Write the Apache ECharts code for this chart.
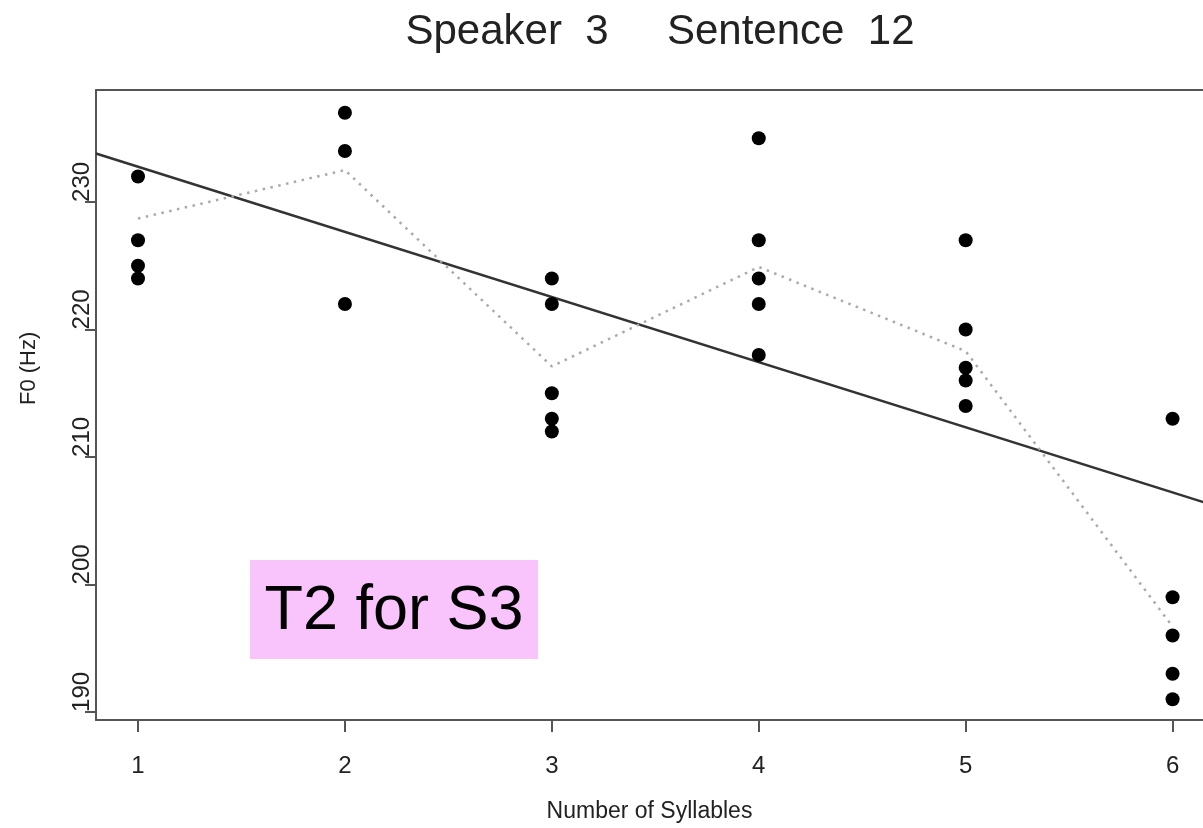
<!DOCTYPE html>
<html>
<head>
<meta charset="utf-8">
<script src="https://cdn.jsdelivr.net/npm/echarts@6/dist/echarts.min.js"></script>
<style>
  html, body { margin: 0; padding: 0; background: #fff; }
  #chart { width: 1203px; height: 828px; }
</style>
</head>
<body>
<div id="chart"></div>
<script>
// ---- data ----
const titleText = 'Speaker  3     Sentence  12';
const xName = 'Number of Syllables';
const yName = 'F0 (Hz)';
const annotationText = 'T2 for S3';

const xTicks = [1, 2, 3, 4, 5, 6];
const yTicks = [190, 200, 210, 220, 230];

// F0 values per number of syllables
const f0Syl1 = [232, 227, 225, 224];
const f0Syl2 = [237, 234, 222];
const f0Syl3 = [224, 222, 215, 213, 212];
const f0Syl4 = [235, 227, 224, 222, 218];
const f0Syl5 = [227, 220, 217, 216, 214];
const f0Syl6 = [213, 199, 196, 193, 191];

// dotted line (per-syllable mean)
const meanF0 = [228.7, 232.5, 217.1, 224.9, 218.3, 196.7];

// regression line end points
const fitX = [0.797, 6.2];
const fitF0 = [233.8, 206.2];

// visible axis ranges (the plot box is cut off at the right edge of the picture)
const xRange = [0.797, 6.147];
const yRange = [189.37, 238.78];

// ---- build series ----
const groups = [f0Syl1, f0Syl2, f0Syl3, f0Syl4, f0Syl5, f0Syl6];
const scatterData = [];
groups.forEach((g, i) => g.forEach(v => scatterData.push([xTicks[i], v])));
const meanData = xTicks.map((x, i) => [x, meanF0[i]]);
const fitData = fitX.map((x, i) => [x, fitF0[i]]);

const FONT = '"Liberation Sans", Arial, Helvetica, sans-serif';
const FRAME = { color: '#555', width: 2 };

const chart = echarts.init(document.getElementById('chart'), null, { renderer: 'canvas' });
chart.setOption({
  animation: false,
  backgroundColor: '#ffffff',
  title: {
    text: titleText,
    left: 655,
    textAlign: 'center',
    top: 6,
    textStyle: { fontFamily: FONT, fontSize: 42, fontWeight: 'normal', color: '#222' }
  },
  grid: {
    left: 96, top: 90, right: 0, bottom: 108,
    show: false
  },
  xAxis: [
    {
      type: 'value',
      position: 'bottom',
      min: xRange[0], max: xRange[1],
      name: xName,
      nameLocation: 'middle',
      nameGap: 80,
      nameTextStyle: { fontFamily: FONT, fontSize: 23, color: '#222', padding: [0, 0, 0, 0] },
      axisLine: { show: true, onZero: false, lineStyle: FRAME },
      splitLine: { show: false },
      axisTick: { show: true, customValues: xTicks, length: 12, inside: false, lineStyle: FRAME },
      axisLabel: { customValues: xTicks, margin: 34, fontFamily: FONT, fontSize: 24, color: '#222',
        formatter: v => String(v) }
    },
    {
      type: 'value',
      position: 'top',
      min: xRange[0], max: xRange[1],
      axisLine: { show: true, onZero: false, lineStyle: FRAME },
      splitLine: { show: false },
      axisTick: { show: false },
      axisLabel: { show: false }
    }
  ],
  yAxis: {
    type: 'value',
    min: yRange[0], max: yRange[1],
    name: yName,
    nameLocation: 'middle',
    nameRotate: 90,
    nameGap: 56,
    nameTextStyle: { fontFamily: FONT, fontSize: 22, color: '#222', align: 'left', verticalAlign: 'bottom' },
    axisLine: { show: true, onZero: false, lineStyle: FRAME },
    splitLine: { show: false },
    axisTick: { show: true, customValues: yTicks, length: 11, inside: false, lineStyle: FRAME },
    axisLabel: { customValues: yTicks, rotate: 90, align: 'left', verticalAlign: 'bottom',
      margin: 2, fontFamily: FONT, fontSize: 24, color: '#222', formatter: v => String(v) }
  },
  series: [
    {
      type: 'line',
      data: fitData,
      showSymbol: false,
      symbol: 'none',
      clip: true,
      lineStyle: { color: '#333', width: 2.5 },
      z: 2
    },
    {
      type: 'line',
      data: meanData,
      showSymbol: false,
      symbol: 'none',
      lineStyle: { color: '#aaa', width: 2.5, type: [2.5, 5.5] },
      z: 2
    },
    {
      type: 'scatter',
      data: scatterData,
      symbol: 'circle',
      symbolSize: 14,
      itemStyle: { color: '#000', opacity: 1 },
      z: 3
    }
  ],
  graphic: [
    {
      type: 'rect',
      left: 250, top: 560,
      shape: { width: 288, height: 99 },
      style: { fill: '#f9c4fb' },
      z: 10
    },
    {
      type: 'text',
      x: 394, y: 612,
      style: { text: annotationText, fontFamily: FONT, fontSize: 63, fill: '#000',
        textAlign: 'center', textVerticalAlign: 'middle' },
      z: 11
    }
  ]
});
</script>
</body>
</html>
